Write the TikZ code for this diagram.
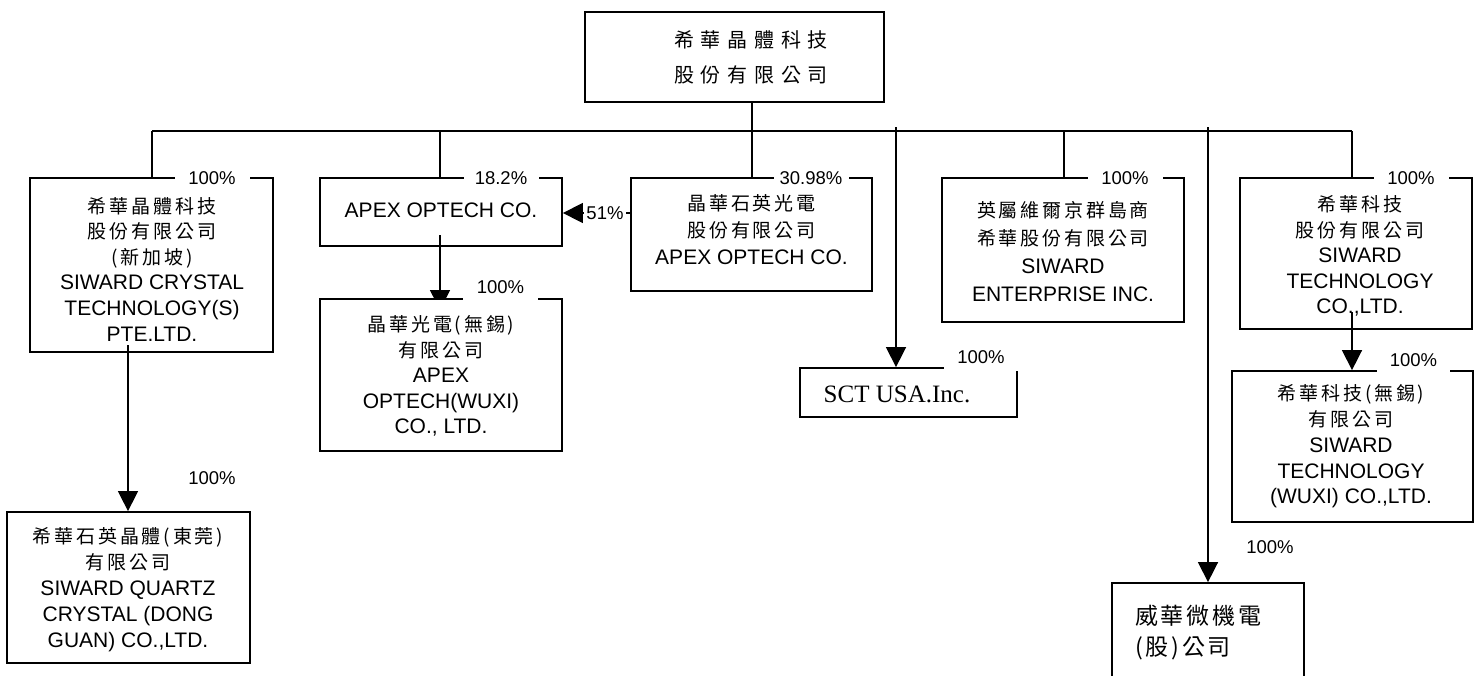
\documentclass[tikz,border=0pt]{standalone}
\usepackage{fontspec}
\setmainfont{Liberation Sans}
\newfontfamily\cjk{Noto Sans CJK TC}[LetterSpace=15]
\newfontfamily\cjktop{Noto Sans CJK TC}[LetterSpace=34]
\newfontfamily\cjkbig{Noto Sans CJK TC}[LetterSpace=12]
\newfontfamily\tnr{Liberation Serif}
\usetikzlibrary{arrows.meta}
\newcommand\zh[1]{{\cjk\fontsize{19}{19}\selectfont#1}}
\begin{document}
\begin{tikzpicture}[x=1pt,y=-1pt,
  box/.style={draw, line width=1.8pt, inner sep=0pt},
  conn/.style={line width=1.5pt},
  arr/.style={conn, -{Triangle[width=20pt,length=20pt]}},
  pct/.style={fill=white, inner sep=0pt, minimum width=75pt, minimum height=24pt, font=\fontsize{18.5}{20}\selectfont},
  txt/.style={align=center, inner sep=0pt}]
\useasboundingbox (0,0) rectangle (1474,675);
\clip (0,0) rectangle (1474,675);

% boxes
\node[box, minimum width=299pt, minimum height=90pt] (top) at (734.5,57) {};
\node[box, minimum width=243pt, minimum height=174pt] (b1) at (151.5,265) {};
\node[box, minimum width=243pt, minimum height=151pt] (b1b) at (128.5,587.5) {};
\node[box, minimum width=242pt, minimum height=68pt] (b2) at (441,212) {};
\node[box, minimum width=241pt, minimum height=113pt] (b4) at (751.5,234.5) {};
\node[box, minimum width=217pt, minimum height=49pt] (sct) at (908.5,392.5) {};
\node[box, minimum width=242pt, minimum height=144pt] (b5) at (1063,250) {};
\node[box, minimum width=232pt, minimum height=151pt] (b6) at (1356,253.5) {};
\node[box, minimum width=241pt, minimum height=151pt] (b7) at (1352.5,446.5) {};
\node[box, minimum width=192pt, minimum height=117pt] (b8) at (1208,641.5) {};

% connectors
\coordinate (j0) at (752,131);
\coordinate (jl) at (152,131);
\coordinate (jr) at (1352,131);
\coordinate (j2) at (440,131);
\coordinate (j5) at (1064,131);
\coordinate (ju) at (896,127);
\coordinate (jw) at (1208,127);
\coordinate (s1) at (128,345);
\coordinate (s2) at (440,235);
\coordinate (s2e) at (440,310);
\coordinate (s6) at (1352,312);
\coordinate (y51) at (600,213);
\draw[conn] (top.south -| j0) -- (j0);
\draw[conn] (jl) -- (jr);
\draw[conn] (jl) -- (b1.north -| jl);
\draw[conn] (j2) -- (b2.north -| j2);
\draw[conn] (j0) -- (b4.north -| j0);
\draw[conn] (j5) -- (b5.north -| j5);
\draw[conn] (jr) -- (b6.north -| jr);
\draw[arr] (ju) -- (sct.north -| ju);
\draw[arr] (jw) -- (b8.north);
\draw[arr] (s1) -- (b1b.north -| s1);
\draw[arr] (s2) -- (s2e);
\draw[arr] (s6) -- (b7.north -| s6);
\draw[arr] (b4.west |- y51) -- (b2.east |- y51);

% box drawn over arrow tip
\node[box, fill=white, minimum width=242pt, minimum height=152pt] (b3) at (441,375) {};

% texts
\node[txt, font=\cjktop\fontsize{20}{35}\selectfont] (ttop) at (751,57.5) {希華晶體科技\\股份有限公司};
\node[txt, font=\fontsize{21}{25.6}\selectfont] (t1) at (152,269) {\zh{希華晶體科技}\\\zh{股份有限公司}\\\zh{(新加坡)}\\SIWARD CRYSTAL\\TECHNOLOGY(S)\\PTE.LTD.};
\node[txt, font=\fontsize{21}{26}\selectfont] (t1b) at (128,590) {\zh{希華石英晶體(東莞)}\\\zh{有限公司}\\SIWARD QUARTZ\\CRYSTAL (DONG\\GUAN) CO.,LTD.};
\node[txt, font=\fontsize{21}{25.6}\selectfont] (t2) at (441,210) {APEX OPTECH CO.};
\node[txt, font=\fontsize{21}{25.5}\selectfont] (t3) at (441,376) {\zh{晶華光電(無錫)}\\\zh{有限公司}\\APEX\\OPTECH(WUXI)\\CO., LTD.};
\node[txt, font=\fontsize{21}{27}\selectfont] (t4) at (751.5,230) {\zh{晶華石英光電}\\\zh{股份有限公司}\\APEX OPTECH CO.};
\node[txt, font=\tnr\fontsize{25}{25}\selectfont] (tsct) at (897,394) {SCT USA.Inc.};
\node[txt, font=\fontsize{21}{27.7}\selectfont] (t5) at (1063,251.5) {\zh{英屬維爾京群島商}\\\zh{希華股份有限公司}\\SIWARD\\ENTERPRISE INC.};
\node[txt, font=\fontsize{21}{25.5}\selectfont] (t6) at (1360,256) {\zh{希華科技}\\\zh{股份有限公司}\\SIWARD\\TECHNOLOGY\\CO.,LTD.};
\node[txt, font=\fontsize{21}{25.75}\selectfont] (t7) at (1351,446.5) {\zh{希華科技(無錫)}\\\zh{有限公司}\\SIWARD\\TECHNOLOGY\\(WUXI) CO.,LTD.};
\node[txt, align=left, anchor=west, font=\cjkbig\fontsize{23}{31}\selectfont] (t8) at (1135,632.5) {威華微機電\\(股)公司};

% percentages
\node[pct] (p1) at (212,178) {100\%};
\node[pct] (p2) at (501,178) {18.2\%};
\node[pct] (p4) at (811,178) {30.98\%};
\node[pct] (p5) at (1125,178) {100\%};
\node[pct] (p6) at (1411,178) {100\%};
\node[pct, minimum height=28pt] (p3) at (500.5,287) {100\%};
\node[pct, minimum height=28pt] (psct) at (981,357) {100\%};
\node[pct, minimum width=73pt, minimum height=26pt] (p7) at (1413.5,360) {100\%};
\node[pct, minimum width=42pt] (p51) at (605,213) {51\%};
\node[pct] (p1b) at (212,478) {100\%};
\node[pct] (p8) at (1270,547) {100\%};
\end{tikzpicture}
\end{document}
